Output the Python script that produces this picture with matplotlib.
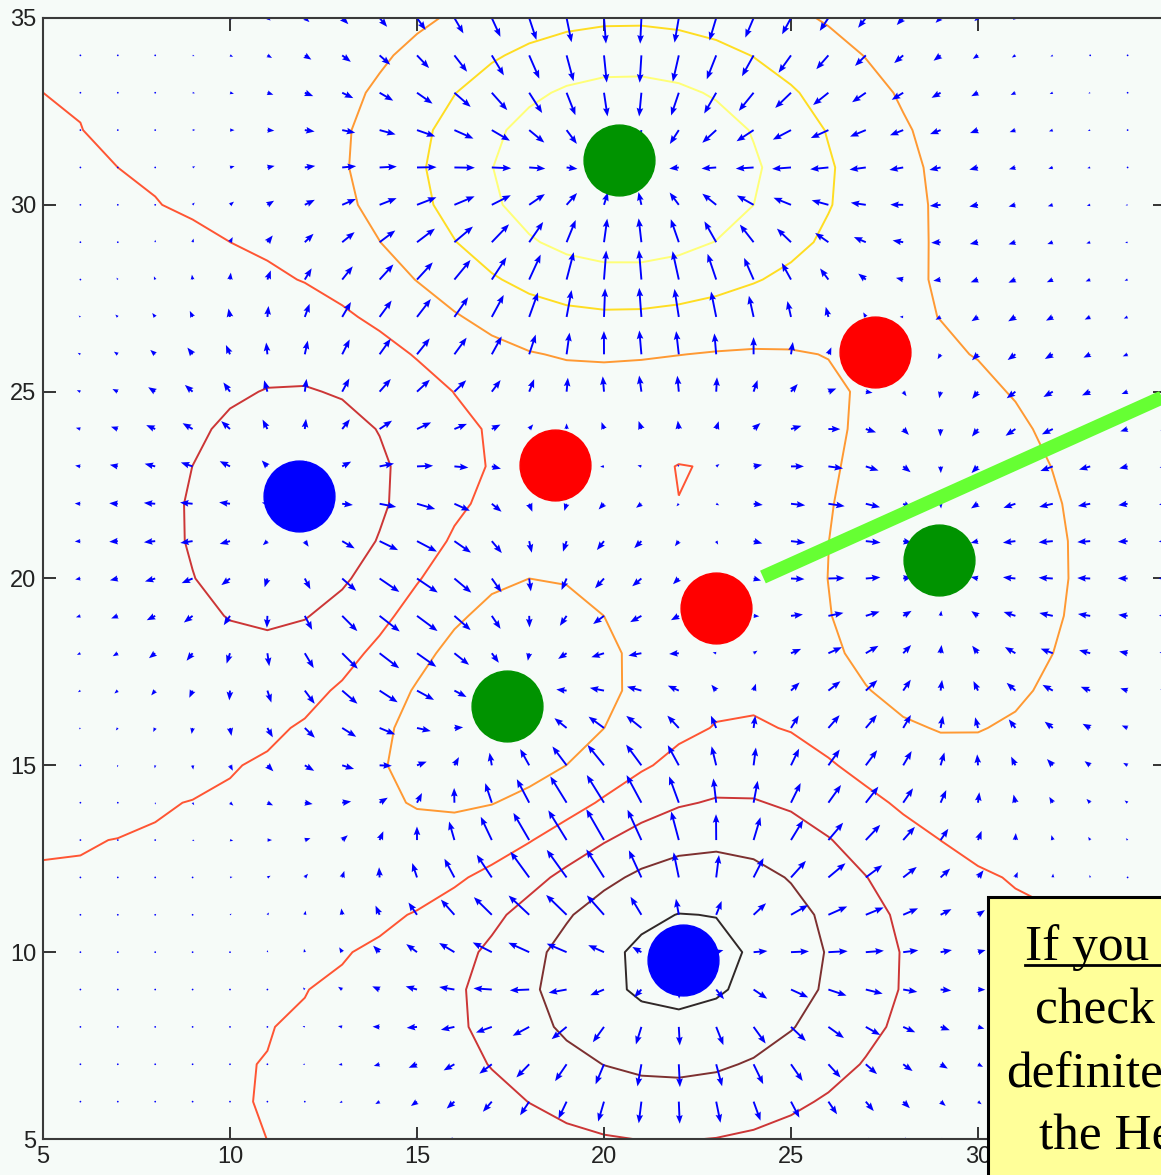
import numpy as np
import matplotlib
matplotlib.use('Agg')
import matplotlib.pyplot as plt
from matplotlib.patches import Rectangle
from matplotlib.lines import Line2D

# marker positions
blue_x = [11.85, 22.1]
blue_y = [22.2, 9.8]
green_x = [20.4, 17.4, 28.95]
green_y = [31.2, 16.6, 20.5]
red_x = [18.7, 27.25, 23.0]
red_y = [23.05, 26.05, 19.2]

# sources of the potential field (gaussian bumps), estimated from the contours
src_x = [12.34, 21.28, 20.65, 17.72, 28.61, 18.7, 27.25, 23.0]
src_y = [21.09, 10.08, 30.75, 16.41, 20.54, 23.05, 26.05, 19.2]
src_q = [-0.613, -1.147, 1.331, 0.958, 0.822, -0.114, -0.076, -0.337]
src_sx = [3.016, 4.170, 4.623, 4.112, 3.248, 7.382, 5.013, 5.524]
src_sy = [3.710, 3.248, 3.337, 4.840, 4.783, 7.382, 5.013, 5.524]

# contour levels and their colours (hot colormap)
levels = [-0.905, -0.605, -0.305, -0.005, 0.295, 0.595, 0.895]
level_colors = ['#302828', '#7d3030', '#cc3636', '#ff5533', '#ff9933', '#ffdd22', '#ffff77']

# green line end points
line_x = [24.25, 36.0]
line_y = [20.04, 25.33]

box_lines = ['If you', 'check', 'definite', 'the He']


def field(x, y):
    V = np.zeros_like(x)
    Vx = np.zeros_like(x)
    Vy = np.zeros_like(x)
    for x0, y0, q, sx, sy in zip(src_x, src_y, src_q, src_sx, src_sy):
        dx = x - x0
        dy = y - y0
        e = q * np.exp(-0.5 * (dx**2 / sx**2 + dy**2 / sy**2))
        V += e
        Vx += -e * dx / sx**2
        Vy += -e * dy / sy**2
    return V, Vx, Vy


bg = '#f6fbf8'
fig = plt.figure(figsize=(11.61, 11.75), dpi=100, facecolor=bg)
ax = fig.add_axes([43/1161, 36/1175, 1122/1161, 1121/1175])
ax.set_facecolor(bg)

g = np.arange(5, 36).astype(float)
X, Y = np.meshgrid(g, g)
V, U, W = field(X, Y)

ax.contour(X, Y, V, levels=levels, colors=level_colors, linewidths=1.4, zorder=1)
mag = np.hypot(U, W)
ax.quiver(X, Y, U, W, color='#0000ff', angles='xy', scale_units='xy', scale=mag.max()/0.95,
          width=0.0017, headwidth=3.5, headlength=4.5, headaxislength=4, minlength=1.0, zorder=2)

ax.plot(blue_x, blue_y, 'o', ms=51, color='#0000ff', zorder=3)
ax.plot(green_x, green_y, 'o', ms=51, color='#009300', zorder=3)
ax.plot(red_x, red_y, 'o', ms=51, color='#ff0000', zorder=3)
ax.plot(line_x, line_y, color='#66ff33', lw=10, solid_capstyle='butt', zorder=4)

ax.set_xlim(5, 35)
ax.set_ylim(5, 35)
ax.set_xticks(range(5, 36, 5))
ax.set_yticks(range(5, 36, 5))
ax.tick_params(direction='in', length=9, width=1.4, color='#333333', labelsize=17,
               labelcolor='#222222', top=True, right=True, pad=5)
for lab in ax.get_xticklabels() + ax.get_yticklabels():
    lab.set_family('Liberation Sans')
for s in ax.spines.values():
    s.set_color('#3a3a3a')
    s.set_linewidth(1.5)

# yellow note box, cut off by the right and bottom edge
fig.add_artist(Rectangle((988/1161, -0.01), 0.2, 278/1175 + 0.01, transform=fig.transFigure,
                         facecolor='#ffff99', edgecolor='black', lw=2.2, zorder=10))
for s, x, b in zip(box_lines, [1025, 1035, 1006, 1039], [960, 1023, 1087, 1150]):
    fig.text(x/1161, (1175-b)/1175, s, fontsize=37, family='Liberation Serif',
             va='baseline', ha='left', zorder=11)
fig.add_artist(Line2D([1025/1161, 1.0], [(1175-965)/1175]*2, color='black', lw=2,
                      transform=fig.transFigure, zorder=11))

fig.savefig('out.png', dpi=100, facecolor=bg)
